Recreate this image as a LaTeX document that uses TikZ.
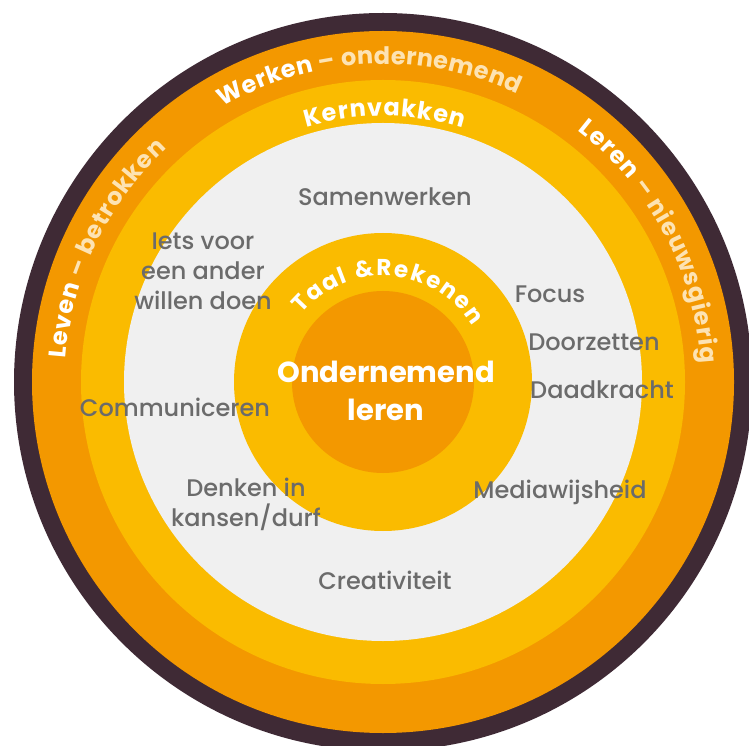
\documentclass[tikz,border=0pt]{standalone}
\usepackage{fontspec}
\setmainfont{Poppins}
\newfontfamily\medfont{Poppins Medium}
\usetikzlibrary{decorations.text}
\definecolor{ringdark}{HTML}{3F2A35}
\definecolor{ringorange}{HTML}{F39800}
\definecolor{ringyellow}{HTML}{FABB00}
\definecolor{coregray}{HTML}{F0F0F0}
\definecolor{labelgray}{HTML}{6B6B6B}
\definecolor{cream}{HTML}{FDE3B3}
\tikzstyle{skill} = [text=labelgray, font=\medfont\fontsize{24}{30}\selectfont, align=center, anchor=base, inner sep=0pt]
\tikzstyle{core} = [text=white, font=\bfseries\fontsize{29}{38}\selectfont, align=center, anchor=base, inner sep=0pt]
\tikzset{ringtext/.style={decorate, decoration={text along path, text align=fit to path, text={#1}}}}
\newcommand{\ringfont}{\bfseries\fontsize{24}{24}\selectfont}

\begin{document}
\begin{tikzpicture}[x=1pt, y=1pt]
	\clip (0,0) rectangle (749,745);
	\fill[white] (0,0) rectangle (749,745);
	\coordinate (C) at (383,363);
	% rings
	\fill[ringdark] (C) circle (369);
	\fill[ringorange] (C) circle (351);
	\fill[ringyellow] (C) circle (302);
	\fill[coregray] (C) circle (259);
	\fill[ringyellow] (C) circle (149);
	\fill[ringorange] (C) circle (91);
	% curved texts
	\path[ringtext={|\ringfont\color{white}|Werken |\ringfont\color{cream}|– ondernemend}] (C) ++(120.2:318) arc[start angle=120.2, end angle=65, radius=318];
	\path[ringtext={|\ringfont\color{white}|Leren |\ringfont\color{cream}|– nieuwsgierig}] (C) ++(52.2:318) arc[start angle=52.2, end angle=3.4, radius=318];
	\path[ringtext={|\ringfont\color{white}|Leven |\ringfont\color{cream}|– betrokken}] (C) ++(175.8:318) arc[start angle=175.8, end angle=132.8, radius=318];
	\path[ringtext={|\bfseries\fontsize{24}{24}\selectfont\color{white}|Kernvakken}] (C) ++(106.7:266) arc[start angle=106.7, end angle=72.5, radius=266];
	\path[ringtext={|\bfseries\fontsize{23}{23}\selectfont\color{white}|Taal {\&}Rekenen}] (C) ++(140:106) arc[start angle=140, end angle=32, radius=106];
	% labels
	\node (samen) [skill] at (385,539) {Samenwerken};
	\node (iets) [skill] at (203,435) {Iets voor\\een ander\\willen doen};
	\node (comm) [skill] at (175,329) {Communiceren};
	\node (denken) [skill] at (246,219) {Denken in\\kansen/durf};
	\node (creat) [skill] at (385,156) {Creativiteit};
	\node (focus) [skill] at (550,442) {Focus};
	\node (doorz) [skill] at (594,394) {Doorzetten};
	\node (daad) [skill] at (602,346) {Daadkracht};
	\node (media) [skill] at (560,247) {Mediawijsheid};
	\node (ondern) [core] at (386,325) {Ondernemend\\leren};
\end{tikzpicture}
\end{document}
